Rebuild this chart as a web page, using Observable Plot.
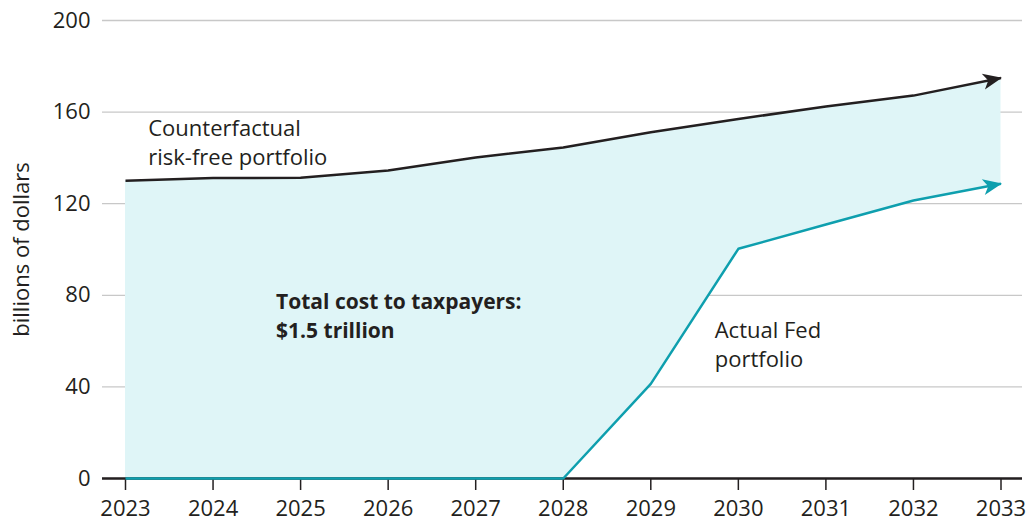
<!DOCTYPE html>
<html><head><meta charset="utf-8">
<script src="https://cdn.jsdelivr.net/npm/d3@7"></script>
<script src="https://cdn.jsdelivr.net/npm/@observablehq/plot@0.6"></script>
<style>body{margin:0;background:#fff} svg{display:block}</style>
</head><body><div id="chart"></div>
<script>
const years = [2023, 2024, 2025, 2026, 2027, 2028, 2029, 2030, 2031, 2032, 2033];
const counterfactual = [130, 131.2, 131.3, 134.5, 140.2, 144.5, 151.2, 157, 162.4, 167.2, 174.9];
const actualFed = [0, 0, 0, 0, 0, 0, 41.3, 100.3, 110.9, 121.4, 128.7];
const yTicks = [0, 40, 80, 120, 160, 200];
const xTicks = years;
const yLabel = "billions of dollars";
const labelCounterfactual = "Counterfactual\nrisk-free portfolio";
const labelActual = "Actual Fed\nportfolio";
const labelCost = "Total cost to taxpayers:\n$1.5 trillion";

const data = years.map((year, i) => ({year, counterfactual: counterfactual[i], actual: actualFed[i]}));

const INK = "#231f20";
const TEAL = "#0e9fae";

function arrowMarker(color, context) {
  const doc = (context && context.document) || document;
  const ns = "http://www.w3.org/2000/svg";
  const m = doc.createElementNS(ns, "marker");
  m.setAttribute("viewBox", "-20 -9 21 18");
  m.setAttribute("markerWidth", 21);
  m.setAttribute("markerHeight", 18);
  m.setAttribute("markerUnits", "userSpaceOnUse");
  m.setAttribute("refX", 0);
  m.setAttribute("refY", 0);
  m.setAttribute("orient", "auto");
  const p = doc.createElementNS(ns, "path");
  p.setAttribute("d", "M1,0L-18,-8L-13,0L-18,8Z");
  p.setAttribute("fill", color);
  p.setAttribute("stroke", "none");
  m.appendChild(p);
  return m;
}

const chart = Plot.plot({
  width: 1028,
  height: 523,
  marginLeft: 102,
  marginRight: 6,
  marginTop: 20,
  marginBottom: 45,
  style: {fontFamily: "'Open Sans', Lato, sans-serif", color: INK, background: "#fff"},
  x: {domain: [2023, 2033], insetLeft: 23, insetRight: 21.5},
  y: {domain: [0, 200]},
  marks: [
    Plot.gridY(yTicks, {stroke: "#c8c8c8", strokeOpacity: 1, strokeWidth: 1.3}),
    Plot.areaY(data, {x: "year", y1: "actual", y2: "counterfactual", fill: "#dff5f7"}),
    Plot.ruleY([0], {stroke: INK, strokeWidth: 2.5}),
    Plot.axisX(xTicks, {tickFormat: d => String(d), tickSize: 12, tickPadding: 10, fontSize: 22, color: INK, strokeWidth: 1.5, label: null}),
    Plot.axisY(yTicks, {tickSize: 0, tickPadding: 12, fontSize: 22, color: INK, label: yLabel, labelAnchor: "center", labelArrow: "none", labelOffset: 89}),
    Plot.line(data, {x: "year", y: "counterfactual", stroke: INK, strokeWidth: 2.5, strokeLinecap: "butt", markerEnd: arrowMarker}),
    Plot.line(data, {x: "year", y: "actual", stroke: TEAL, strokeWidth: 2.5, strokeLinecap: "butt", markerEnd: arrowMarker}),
    Plot.text([labelCounterfactual], {x: 2023.26, y: 147.5, text: d => d, textAnchor: "start", lineAnchor: "middle", lineHeight: 1.32, fontSize: 22, fill: INK}),
    Plot.text([labelCost], {x: 2024.72, y: 71.8, text: d => d, textAnchor: "start", lineAnchor: "middle", lineHeight: 1.38, fontSize: 21, fontWeight: "bold", fill: INK}),
    Plot.text([labelActual], {x: 2029.73, y: 59.2, text: d => d, textAnchor: "start", lineAnchor: "middle", lineHeight: 1.32, fontSize: 22, fill: INK})
  ]
});
document.getElementById("chart").appendChild(chart);
</script>
</body></html>
